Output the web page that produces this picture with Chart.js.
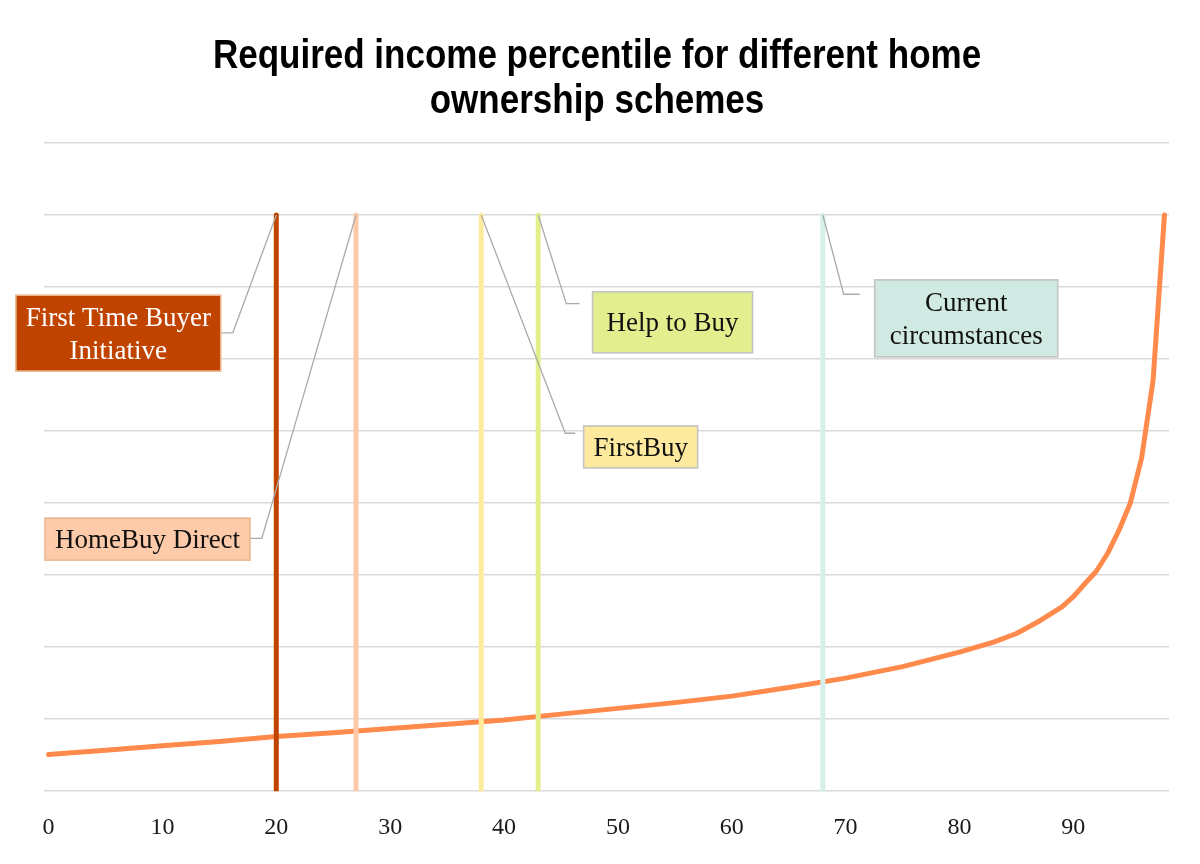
<!DOCTYPE html>
<html>
<head>
<meta charset="utf-8">
<title>Required income percentile for different home ownership schemes</title>
<script src="https://cdn.jsdelivr.net/npm/chart.js@4.4.0/dist/chart.umd.min.js"></script>
<style>
  html, body { margin: 0; padding: 0; background: #fff; }
</style>
</head>
<body>
<canvas id="incomeChart" width="1200" height="864"></canvas>
<script>
// curve: income percentile -> required income (gridline = 10)
const percentiles = [0, 5, 10, 15, 20, 25, 30, 35, 40, 45, 50, 55, 60, 65, 70, 75, 80, 83, 85, 87, 89, 90, 91, 92, 93, 94, 95, 96, 97, 98];
const incomeValues = [5.1, 5.7, 6.3, 6.9, 7.6, 8.1, 8.7, 9.3, 9.9, 10.7, 11.5, 12.3, 13.2, 14.4, 15.7, 17.3, 19.3, 20.7, 21.9, 23.6, 25.6, 27.0, 28.8, 30.5, 33.0, 36.2, 40.0, 46.3, 57.0, 80.0];
const xTickValues = [0, 10, 20, 30, 40, 50, 60, 70, 80, 90];

const titleLines = ["Required income percentile for different home", "ownership schemes"];

// schemes drawn as vertical markers
const schemeLabels = [["First Time Buyer", "Initiative"], ["HomeBuy Direct"], ["FirstBuy"], ["Help to Buy"], ["Current", "circumstances"]];
const schemePercentiles = [20, 27, 38, 43, 68];
const schemeTop = 80;

const schemeColors = ["#C04400", "#FFC9A8", "#FFEB9C", "#E2EF8C", "#D4F0E8"];
const boxFills = ["#C04400", "#FECBAA", "#FEEA9F", "#E3EE8F", "#D0EAE3"];
const boxBorders = ["#EDBC96", "#E8B894", "#C4C4C4", "#C4C4C4", "#C4C4C4"];
const boxText = ["#FFFFFF", "#111111", "#111111", "#111111", "#111111"];

// where each label box sits (centre / elbow in data units, box size in px)
const calloutSpots = [
  { center: [6.13, 63.6], w: 205, h: 76, elbow: [16.18, 63.65], stubTo: 15.15 },
  { center: [8.69, 35.0], w: 205, h: 42, elbow: [18.73, 35.1], stubTo: 17.7 },
  { center: [52.0, 47.8], w: 114, h: 42, elbow: [45.38, 49.7], stubTo: 46.26 },
  { center: [54.8, 65.1], w: 160, h: 61, elbow: [45.47, 67.7], stubTo: 46.63 },
  { center: [80.59, 65.65], w: 183, h: 77, elbow: [69.83, 69.0], stubTo: 71.24 }
];

const serif = '"Liberation Serif", "DejaVu Serif", serif';

// title in a narrow bold face (no condensed font installed, so squeeze it)
const titlePlugin = {
  id: "narrowTitle",
  afterDraw(chart) {
    const ctx = chart.ctx;
    ctx.save();
    ctx.font = "bold 40px \"Liberation Sans\", Arial, sans-serif";
    ctx.fillStyle = "#000";
    ctx.textAlign = "center";
    ctx.textBaseline = "alphabetic";
    ctx.translate(597, 0);
    ctx.scale(0.875, 1);
    ctx.fillText(titleLines[0], 0, 68);
    ctx.fillText(titleLines[1], 0, 113);
    ctx.restore();
  }
};

const calloutPlugin = {
  id: "callouts",
  afterDatasetsDraw(chart) {
    const ctx = chart.ctx;
    const xs = chart.scales.x;
    const ys = chart.scales.y;
    ctx.save();
    calloutSpots.forEach(function (spot, i) {
      const topX = xs.getPixelForValue(schemePercentiles[i]);
      const topY = ys.getPixelForValue(schemeTop);
      const ex = xs.getPixelForValue(spot.elbow[0]);
      const ey = ys.getPixelForValue(spot.elbow[1]);
      const sx = xs.getPixelForValue(spot.stubTo);

      // leader line
      ctx.strokeStyle = "#ABABAB";
      ctx.lineWidth = 1.3;
      ctx.beginPath();
      ctx.moveTo(topX, topY);
      ctx.lineTo(ex, ey);
      ctx.lineTo(sx, ey);
      ctx.stroke();

      // box
      const cx = xs.getPixelForValue(spot.center[0]);
      const cy = ys.getPixelForValue(spot.center[1]);
      ctx.fillStyle = boxFills[i];
      ctx.fillRect(cx - spot.w / 2, cy - spot.h / 2, spot.w, spot.h);
      ctx.strokeStyle = boxBorders[i];
      ctx.lineWidth = 1.6;
      ctx.strokeRect(cx - spot.w / 2, cy - spot.h / 2, spot.w, spot.h);

      // text
      const lines = schemeLabels[i];
      const lh = 33;
      ctx.fillStyle = boxText[i];
      ctx.font = "27px " + serif;
      ctx.textAlign = "center";
      ctx.textBaseline = "middle";
      lines.forEach(function (t, k) {
        ctx.fillText(t, cx, cy + (k - (lines.length - 1) / 2) * lh + 2);
      });
    });
    ctx.restore();
  }
};

const datasets = schemePercentiles.map(function (p, i) {
  return {
    label: schemeLabels[i].join(" "),
    data: [{ x: p, y: 0 }, { x: p, y: schemeTop }],
    borderColor: schemeColors[i],
    borderWidth: 5,
    borderCapStyle: "round",
    pointRadius: 0
  };
});

datasets.push({
  label: "Required income",
  data: percentiles.map(function (p, i) { return { x: p, y: incomeValues[i] }; }),
  borderColor: "#FF8A4C",
  borderWidth: 5,
  borderCapStyle: "round",
  borderJoinStyle: "round",
  tension: 0,
  pointRadius: 0
});

new Chart(document.getElementById("incomeChart").getContext("2d"), {
  type: "line",
  data: { datasets: datasets },
  plugins: [calloutPlugin, titlePlugin],
  options: {
    responsive: false,
    animation: false,
    layout: { padding: { left: 44, right: 31, top: 143, bottom: 0 } },
    plugins: {
      legend: { display: false },
      tooltip: { enabled: false },
      title: { display: false }
    },
    scales: {
      x: {
        type: "linear",
        min: -0.4,
        max: 98.4,
        grid: { display: false, drawTicks: false },
        border: { display: false },
        afterBuildTicks: function (scale) {
          scale.ticks = xTickValues.map(function (v) { return { value: v }; });
        },
        ticks: {
          padding: 22,
          color: "#1a1a1a",
          font: { family: serif, size: 24 },
          maxRotation: 0,
          autoSkip: false
        }
      },
      y: {
        min: 0,
        max: 90,
        grid: { color: "#D9D9D9", lineWidth: 1.5, drawTicks: false },
        border: { display: false },
        ticks: { display: false, stepSize: 10 }
      }
    }
  }
});
</script>
</body>
</html>
